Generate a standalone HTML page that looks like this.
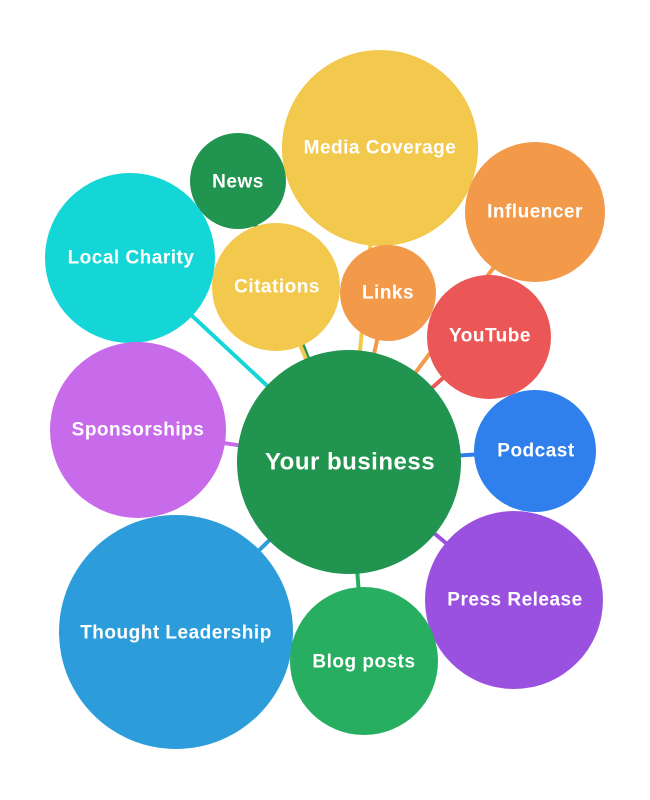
<!DOCTYPE html>
<html><head><meta charset="utf-8"><style>
html,body{margin:0;padding:0;background:#fff;width:650px;height:800px;overflow:hidden}
text{font-family:"Liberation Sans",sans-serif;font-weight:bold;fill:#fff;text-anchor:middle;dominant-baseline:central}
</style></head><body>
<svg width="650" height="800" viewBox="0 0 650 800" xmlns="http://www.w3.org/2000/svg">
<g stroke-width="4">
<line x1="349" y1="462" x2="380" y2="148" stroke="#f2c94c"/>
<line x1="349" y1="462" x2="238" y2="181" stroke="#21944f"/>
<line x1="349" y1="462" x2="535" y2="212" stroke="#f2994a"/>
<line x1="349" y1="462" x2="130" y2="258" stroke="#14d6d6"/>
<line x1="349" y1="462" x2="276" y2="287" stroke="#f2c94c"/>
<line x1="349" y1="462" x2="388" y2="293" stroke="#f2994a"/>
<line x1="349" y1="462" x2="489" y2="337" stroke="#eb5757"/>
<line x1="349" y1="462" x2="138" y2="430" stroke="#c86bea"/>
<line x1="349" y1="462" x2="535" y2="451" stroke="#2f80ed"/>
<line x1="349" y1="462" x2="514" y2="600" stroke="#9b51e0"/>
<line x1="349" y1="462" x2="176" y2="632" stroke="#2d9cdb"/>
<line x1="349" y1="462" x2="364" y2="661" stroke="#27ae60"/>
</g>
<circle cx="380" cy="148" r="98" fill="#f2c94c"/>
<circle cx="238" cy="181" r="48" fill="#21944f"/>
<circle cx="535" cy="212" r="70" fill="#f2994a"/>
<circle cx="130" cy="258" r="85" fill="#14d6d6"/>
<circle cx="276" cy="287" r="64" fill="#f2c94c"/>
<circle cx="388" cy="293" r="48" fill="#f2994a"/>
<circle cx="489" cy="337" r="62" fill="#eb5757"/>
<circle cx="138" cy="430" r="88" fill="#c86bea"/>
<circle cx="535" cy="451" r="61" fill="#2f80ed"/>
<circle cx="514" cy="600" r="89" fill="#9b51e0"/>
<circle cx="176" cy="632" r="117" fill="#2d9cdb"/>
<circle cx="364" cy="661" r="74" fill="#27ae60"/>
<circle cx="349" cy="462" r="112" fill="#21944f"/>
<g font-size="19" letter-spacing="0.5">
<text x="380" y="148">Media Coverage</text>
<text x="238" y="182">News</text>
<text x="535" y="212">Influencer</text>
<text x="131" y="258">Local Charity</text>
<text x="277" y="287">Citations</text>
<text x="388" y="293">Links</text>
<text x="490" y="336">YouTube</text>
<text x="138" y="430">Sponsorships</text>
<text x="536" y="451">Podcast</text>
<text x="515" y="600">Press Release</text>
<text x="176" y="633">Thought Leadership</text>
<text x="364" y="662">Blog posts</text>
</g>
<text x="350" y="462" font-size="24" letter-spacing="0.5">Your business</text>
</svg>
</body></html>
